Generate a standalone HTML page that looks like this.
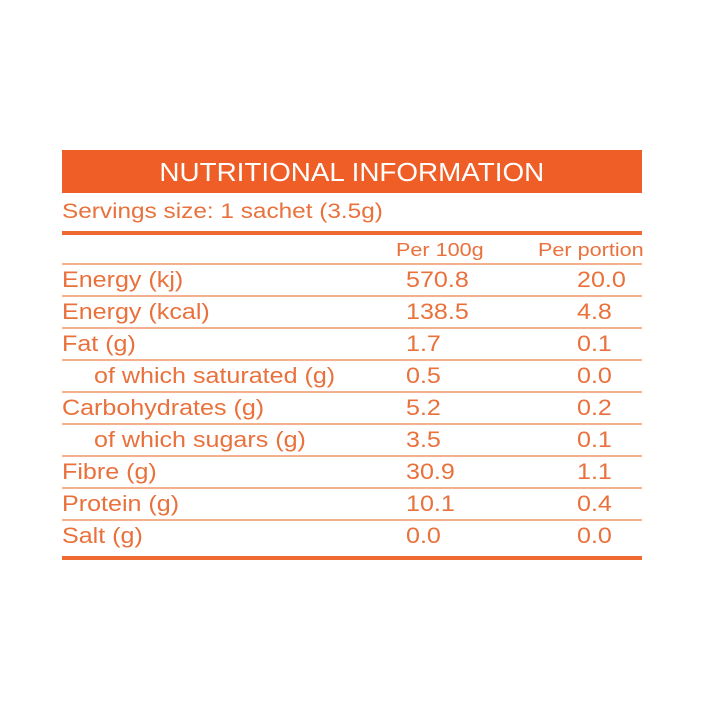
<!DOCTYPE html>
<html><head><style>
body{margin:0;width:720px;height:720px;background:#fff;position:relative;font-family:"Liberation Sans",sans-serif;color:#e9713c;overflow:hidden}
.bar{position:absolute;left:62px;top:150px;width:580px;height:43px;background:#ef5e26;color:#fff;font-size:26px;text-align:center;line-height:45px}
.bar span{display:inline-block;transform:scaleX(1.07)}
.t{position:absolute;white-space:nowrap;font-size:22px;line-height:24px;transform:scaleX(1.14);transform-origin:0 0}
.h{font-size:18px;transform:scaleX(1.2)}
.l{position:absolute;left:62px;width:580px;height:2px;background:#f4b08f}
.th{position:absolute;left:62px;width:580px;height:4px;background:#ef6a30}
</style></head><body>
<div class="bar"><span>NUTRITIONAL INFORMATION</span></div>
<div class="t" style="left:62px;top:200px;font-size:21px;transform:scaleX(1.16)">Servings size: 1 sachet (3.5g)</div>
<div class="th" style="top:231px"></div>
<div class="t h" style="left:396px;top:238px">Per 100g</div>
<div class="t h" style="left:538px;top:238px">Per portion</div>
<div class="l" style="top:263px"></div>
<div class="l" style="top:295px"></div>
<div class="l" style="top:327px"></div>
<div class="l" style="top:359px"></div>
<div class="l" style="top:391px"></div>
<div class="l" style="top:423px"></div>
<div class="l" style="top:455px"></div>
<div class="l" style="top:487px"></div>
<div class="l" style="top:519px"></div>
<div class="th" style="top:556px"></div>

<div class="t" style="left:62px;top:268px">Energy (kj)</div><div class="t" style="left:406px;top:268px">570.8</div><div class="t" style="left:577px;top:268px">20.0</div>
<div class="t" style="left:62px;top:300px">Energy (kcal)</div><div class="t" style="left:406px;top:300px">138.5</div><div class="t" style="left:577px;top:300px">4.8</div>
<div class="t" style="left:62px;top:332px">Fat (g)</div><div class="t" style="left:406px;top:332px">1.7</div><div class="t" style="left:577px;top:332px">0.1</div>
<div class="t" style="left:94px;top:364px">of which saturated (g)</div><div class="t" style="left:406px;top:364px">0.5</div><div class="t" style="left:577px;top:364px">0.0</div>
<div class="t" style="left:62px;top:396px">Carbohydrates (g)</div><div class="t" style="left:406px;top:396px">5.2</div><div class="t" style="left:577px;top:396px">0.2</div>
<div class="t" style="left:94px;top:428px">of which sugars (g)</div><div class="t" style="left:406px;top:428px">3.5</div><div class="t" style="left:577px;top:428px">0.1</div>
<div class="t" style="left:62px;top:460px">Fibre (g)</div><div class="t" style="left:406px;top:460px">30.9</div><div class="t" style="left:577px;top:460px">1.1</div>
<div class="t" style="left:62px;top:492px">Protein (g)</div><div class="t" style="left:406px;top:492px">10.1</div><div class="t" style="left:577px;top:492px">0.4</div>
<div class="t" style="left:62px;top:524px">Salt (g)</div><div class="t" style="left:406px;top:524px">0.0</div><div class="t" style="left:577px;top:524px">0.0</div>
</body></html>
